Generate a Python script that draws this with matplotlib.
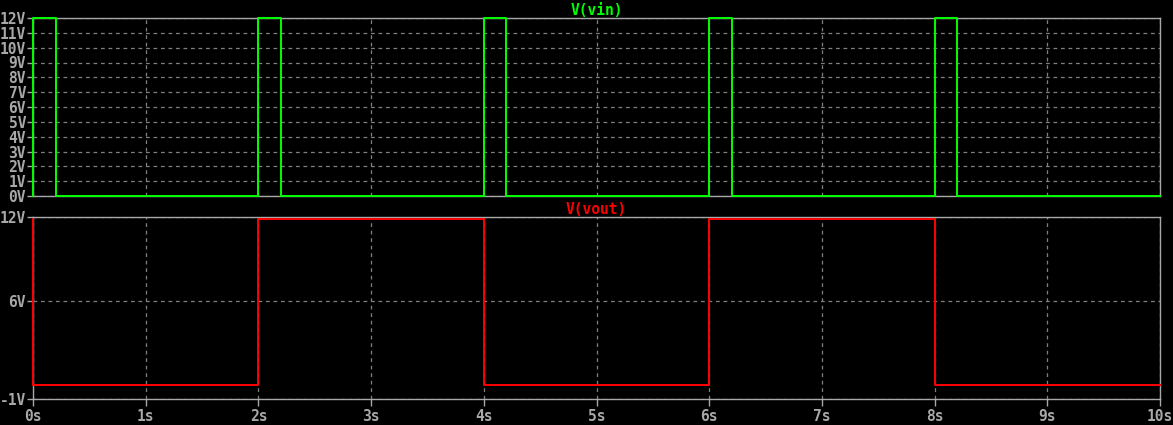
import numpy as np
from matplotlib import pyplot as plt

# V(vin): 0.2 s pulses every 2 s, 0 -> 12 V
vin_t = [0, 0, 0.2, 0.2, 2, 2, 2.2, 2.2, 4, 4, 4.2, 4.2, 6, 6, 6.2, 6.2, 8, 8, 8.2, 8.2, 10]
vin_v = [0, 12, 12, 0, 0, 12, 12, 0, 0, 12, 12, 0, 0, 12, 12, 0, 0, 12, 12, 0, 0]

# V(vout): toggles on every input pulse
vout_t = [0, 0, 2, 2, 4, 4, 6, 6, 8, 8, 10]
vout_v = [11.86, 0.0, 0.0, 11.86, 11.86, 0.0, 0.0, 11.86, 11.86, 0.0, 0.0]

vin_ticks = list(range(0, 13))
vout_ticks = [-1, 6, 12]
time_ticks = list(range(0, 11))

fg = '#a8a8a8'
grid_c = '#808080'

plt.rcParams['font.family'] = 'DejaVu Sans Mono'

fig = plt.figure(figsize=(11.73, 4.25), dpi=100, facecolor='black')
W, H = 1173, 425


def make_ax(top, bottom):
    ax = fig.add_axes([33 / W, (H - bottom) / H, (1160 - 33) / W, (bottom - top) / H])
    ax.set_facecolor('black')
    for s in ax.spines.values():
        s.set_color(fg)
        s.set_linewidth(1)
    ax.grid(True, color=grid_c, linestyle=(0, (3, 3)), linewidth=0.9)
    ax.tick_params(colors=fg, labelcolor=fg, labelsize=10.5, length=4, width=1, pad=1)
    ax.set_xlim(0, 10)
    ax.set_xticks(time_ticks)
    return ax


ax1 = make_ax(18, 196)
ax1.plot(vin_t, vin_v, color='#00ff00', linewidth=1.4, clip_on=False, zorder=3)
ax1.set_ylim(0, 12)
ax1.set_yticks(vin_ticks)
ax1.set_yticklabels([f'{v}V' for v in vin_ticks], fontweight='bold')
ax1.set_xticklabels([])
ax1.tick_params(axis='x', length=0)
ax1.set_title('V(vin)', color='#00ff00', fontsize=10.5, fontweight='bold', pad=1)

ax2 = make_ax(217, 399)
ax2.plot(vout_t, vout_v, color='#ff0000', linewidth=1.4, clip_on=False, zorder=3)
ax2.set_ylim(-1, 12)
ax2.set_yticks(vout_ticks)
ax2.set_yticklabels([f'{v}V' for v in vout_ticks], fontweight='bold')
ax2.set_xticklabels([f'{t}s' for t in time_ticks], fontweight='bold')
ax2.tick_params(axis='x', length=5, pad=2)
ax2.set_title('V(vout)', color='#ff0000', fontsize=10.5, fontweight='bold', pad=1)

fig.savefig('out.png', dpi=100, facecolor='black')
